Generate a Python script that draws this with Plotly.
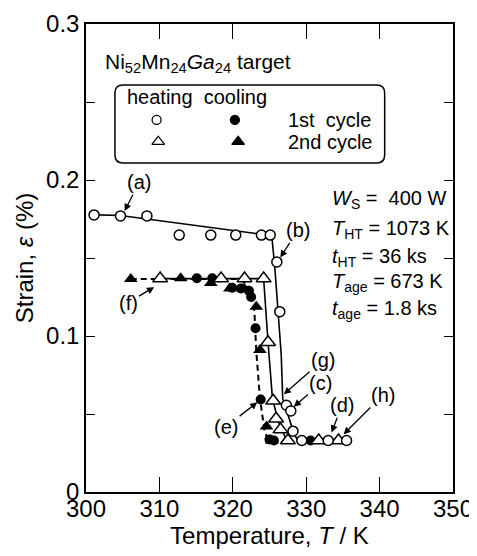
import plotly.graph_objects as go

# ---------------- data ----------------
# heating, 1st cycle (open circles)
T_heat1 = [301.1, 304.7, 308.3, 312.7, 317.0, 320.4, 323.9, 325.1, 326.0, 326.4, 327.3, 327.9, 328.2, 329.4, 333.0, 335.5]
S_heat1 = [0.1776, 0.1770, 0.1770, 0.1647, 0.1647, 0.1647, 0.1647, 0.1647, 0.1475, 0.1156, 0.0556, 0.0520, 0.0390, 0.0330, 0.0330, 0.0330]
# heating, 2nd cycle (open triangles)
T_heat2 = [310.1, 318.4, 321.6, 324.2, 324.8, 325.5, 325.9, 326.5, 327.5, 331.7, 334.4]
S_heat2 = [0.1368, 0.1368, 0.1368, 0.1368, 0.0960, 0.0585, 0.0470, 0.0400, 0.0330, 0.0330, 0.0330]
# cooling, 1st cycle (filled circles)
T_cool1 = [315.1, 317.2, 319.9, 321.1, 322.2, 322.5, 323.1, 323.8, 325.0, 325.6, 330.6]
S_cool1 = [0.1370, 0.1370, 0.1310, 0.1305, 0.1290, 0.1250, 0.1050, 0.0593, 0.0337, 0.0330, 0.0330]
# cooling, 2nd cycle (filled triangles)
T_cool2 = [306.1, 312.9, 317.0, 319.6, 321.6, 323.2, 323.7, 324.6, 325.3]
S_cool2 = [0.1365, 0.1370, 0.1340, 0.1305, 0.1300, 0.1188, 0.0910, 0.0420, 0.0330]

# guide curves drawn through the data
T_guide_heat1 = [300.4, 304.7, 324.6, 325.3, 325.7, 326.6, 326.8, 328.4, 328.9]
S_guide_heat1 = [0.1778, 0.1772, 0.1648, 0.1645, 0.1455, 0.0878, 0.0600, 0.0365, 0.0330]
T_guide_heat2 = [310.1, 324.2, 324.8, 325.4, 326.2, 327.3]
S_guide_heat2 = [0.1368, 0.1368, 0.0960, 0.0600, 0.0450, 0.0335]
T_guide_cool = [306.1, 321.0, 322.3, 322.9, 323.2, 323.7, 324.3, 324.8, 325.6]
S_guide_cool = [0.1365, 0.1365, 0.1310, 0.1200, 0.0900, 0.0600, 0.0400, 0.0330, 0.0330]

x_ticks = [300, 310, 320, 330, 340, 350]
y_ticks = [0, 0.05, 0.1, 0.15, 0.2, 0.25, 0.3]
y_tick_text = ["0", "", "0.1", "", "0.2", "", "0.3"]

# labelled points: (label, T, strain, ax, ay)
labels = [
    ("(a)", 305.2, 0.1795, 15, -30),
    ("(b)", 326.4, 0.1498, 18, -28),
    ("(c)", 328.2, 0.0543, 28, -24),
    ("(d)", 333.4, 0.0376, 11, -28),
    ("(e)", 323.45, 0.0579, -32, 25),
    ("(f)", 309.4, 0.1316, -27, 16),
    ("(g)", 326.85, 0.0622, 40, -35),
    ("(h)", 335.0, 0.0365, 40, -40),
]

params = [
    "<i>W</i><sub>S</sub> =  400 W",
    "<i>T</i><sub>HT</sub> = 1073 K",
    "<i>t</i><sub>HT</sub> = 36 ks",
    "<i>T</i><sub>age</sub> = 673 K",
    "<i>t</i><sub>age</sub> = 1.8 ks",
]
param_y = [0.624, 0.560, 0.502, 0.4466, 0.389]

FONT = "Liberation Sans, Arial, sans-serif"
fig = go.Figure()

# guide lines
fig.add_trace(go.Scatter(x=T_guide_cool, y=S_guide_cool, mode="lines",
                         line=dict(color="black", width=2, dash="6px,4px"), hoverinfo="skip"))
fig.add_trace(go.Scatter(x=T_guide_heat2, y=S_guide_heat2, mode="lines",
                         line=dict(color="black", width=1.6), hoverinfo="skip"))
fig.add_trace(go.Scatter(x=T_guide_heat1, y=S_guide_heat1, mode="lines",
                         line=dict(color="black", width=1.6), hoverinfo="skip"))

# markers
fig.add_trace(go.Scatter(x=T_cool2, y=S_cool2, mode="markers",
                         marker=dict(symbol="triangle-up", size=12, color="black")))
fig.add_trace(go.Scatter(x=T_cool1, y=S_cool1, mode="markers",
                         marker=dict(symbol="circle", size=10, color="black")))
fig.add_trace(go.Scatter(x=T_heat2, y=S_heat2, mode="markers",
                         marker=dict(symbol="triangle-up", size=13, color="white",
                                     line=dict(color="black", width=1.5))))
fig.add_trace(go.Scatter(x=T_heat1, y=S_heat1, mode="markers",
                         marker=dict(symbol="circle", size=10, color="white",
                                     line=dict(color="black", width=1.5))))

# legend key symbols on an overlay 0..1 axis
key_x = [0.1924, 0.4056, 0.1968, 0.4145]
key_y = [0.795, 0.795, 0.7485, 0.7485]
key_sym = ["circle", "circle", "triangle-up", "triangle-up"]
key_fill = ["white", "black", "white", "black"]
for kx, ky, ks, kf in zip(key_x, key_y, key_sym, key_fill):
    fig.add_trace(go.Scatter(x=[kx], y=[ky], xaxis="x2", yaxis="y2", mode="markers",
                             marker=dict(symbol=ks, size=9 if ks == "circle" else 11, color=kf,
                                         line=dict(color="black", width=1.3)),
                             hoverinfo="skip"))

# rounded legend box
x0, x1, y0, y1 = 0.0789, 0.8138, 0.703, 0.8697
rx, ry = 0.022, 0.017
path = (f"M {x0+rx},{y0} L {x1-rx},{y0} Q {x1},{y0} {x1},{y0+ry} L {x1},{y1-ry} "
        f"Q {x1},{y1} {x1-rx},{y1} L {x0+rx},{y1} Q {x0},{y1} {x0},{y1-ry} "
        f"L {x0},{y0+ry} Q {x0},{y0} {x0+rx},{y0} Z")
fig.add_shape(type="path", path=path, xref="paper", yref="paper",
              line=dict(color="black", width=1.5), layer="below")

TS = 20
ann = []
for lab, tx, sy, ax, ay in labels:
    ann.append(dict(x=tx, y=sy, xref="x", yref="y", text=lab, showarrow=True,
                    ax=ax, ay=ay, arrowhead=2, arrowsize=1.1, arrowwidth=1.3,
                    arrowcolor="black", font=dict(size=TS, color="black"), standoff=1))
ann.append(dict(x=0.0463, y=0.9167, xref="paper", yref="paper", xanchor="left", yanchor="middle",
                text="Ni<sub>52</sub>Mn<sub>24</sub><i>Ga</i><sub>24</sub> target", showarrow=False,
                font=dict(size=21, color="black")))
ann.append(dict(x=0.106, y=0.844, xref="paper", yref="paper", xanchor="left", yanchor="middle",
                text="heating  cooling", showarrow=False, font=dict(size=TS, color="black")))
ann.append(dict(x=0.546, y=0.795, xref="paper", yref="paper", xanchor="left", yanchor="middle",
                text="1st  cycle", showarrow=False, font=dict(size=TS, color="black")))
ann.append(dict(x=0.546, y=0.7485, xref="paper", yref="paper", xanchor="left", yanchor="middle",
                text="2nd cycle", showarrow=False, font=dict(size=TS, color="black")))
for txt, py in zip(params, param_y):
    ann.append(dict(x=0.664, y=py, xref="paper", yref="paper", xanchor="left", yanchor="middle",
                    text=txt, showarrow=False, font=dict(size=TS, color="black")))

# the page body adds an 8px margin, so the figure is drawn 8px smaller
fig.update_layout(
    width=469, height=548,
    margin=dict(l=78, r=24, t=16, b=64, autoexpand=False),
    paper_bgcolor="white", plot_bgcolor="white",
    showlegend=False,
    font=dict(family=FONT, color="black", size=24),
    annotations=ann,
    xaxis=dict(range=[300, 350], tickvals=x_ticks, ticks="inside", ticklen=15, tickwidth=1.3,
               tickcolor="black", showline=True, linecolor="black", linewidth=1.5, mirror="ticks",
               showgrid=False, zeroline=False, tickfont=dict(size=24), automargin=False,
               ticklabelstandoff=-6, ticklabeloverflow="allow",
               title=dict(text="Temperature, <i>T</i> / K", font=dict(size=24), standoff=5)),
    yaxis=dict(range=[0, 0.3], tickvals=y_ticks, ticktext=y_tick_text, ticks="inside", ticklen=9,
               tickwidth=1.3, tickcolor="black", showline=True, linecolor="black", linewidth=1.5,
               mirror="ticks", showgrid=False, zeroline=False, tickfont=dict(size=24), automargin=False,
               title=dict(text="Strain, <i>ε</i> (%)", font=dict(size=24), standoff=6)),
    xaxis2=dict(range=[0, 1], overlaying="x", visible=False),
    yaxis2=dict(range=[0, 1], overlaying="y", visible=False),
)

fig.write_html("out.html")
